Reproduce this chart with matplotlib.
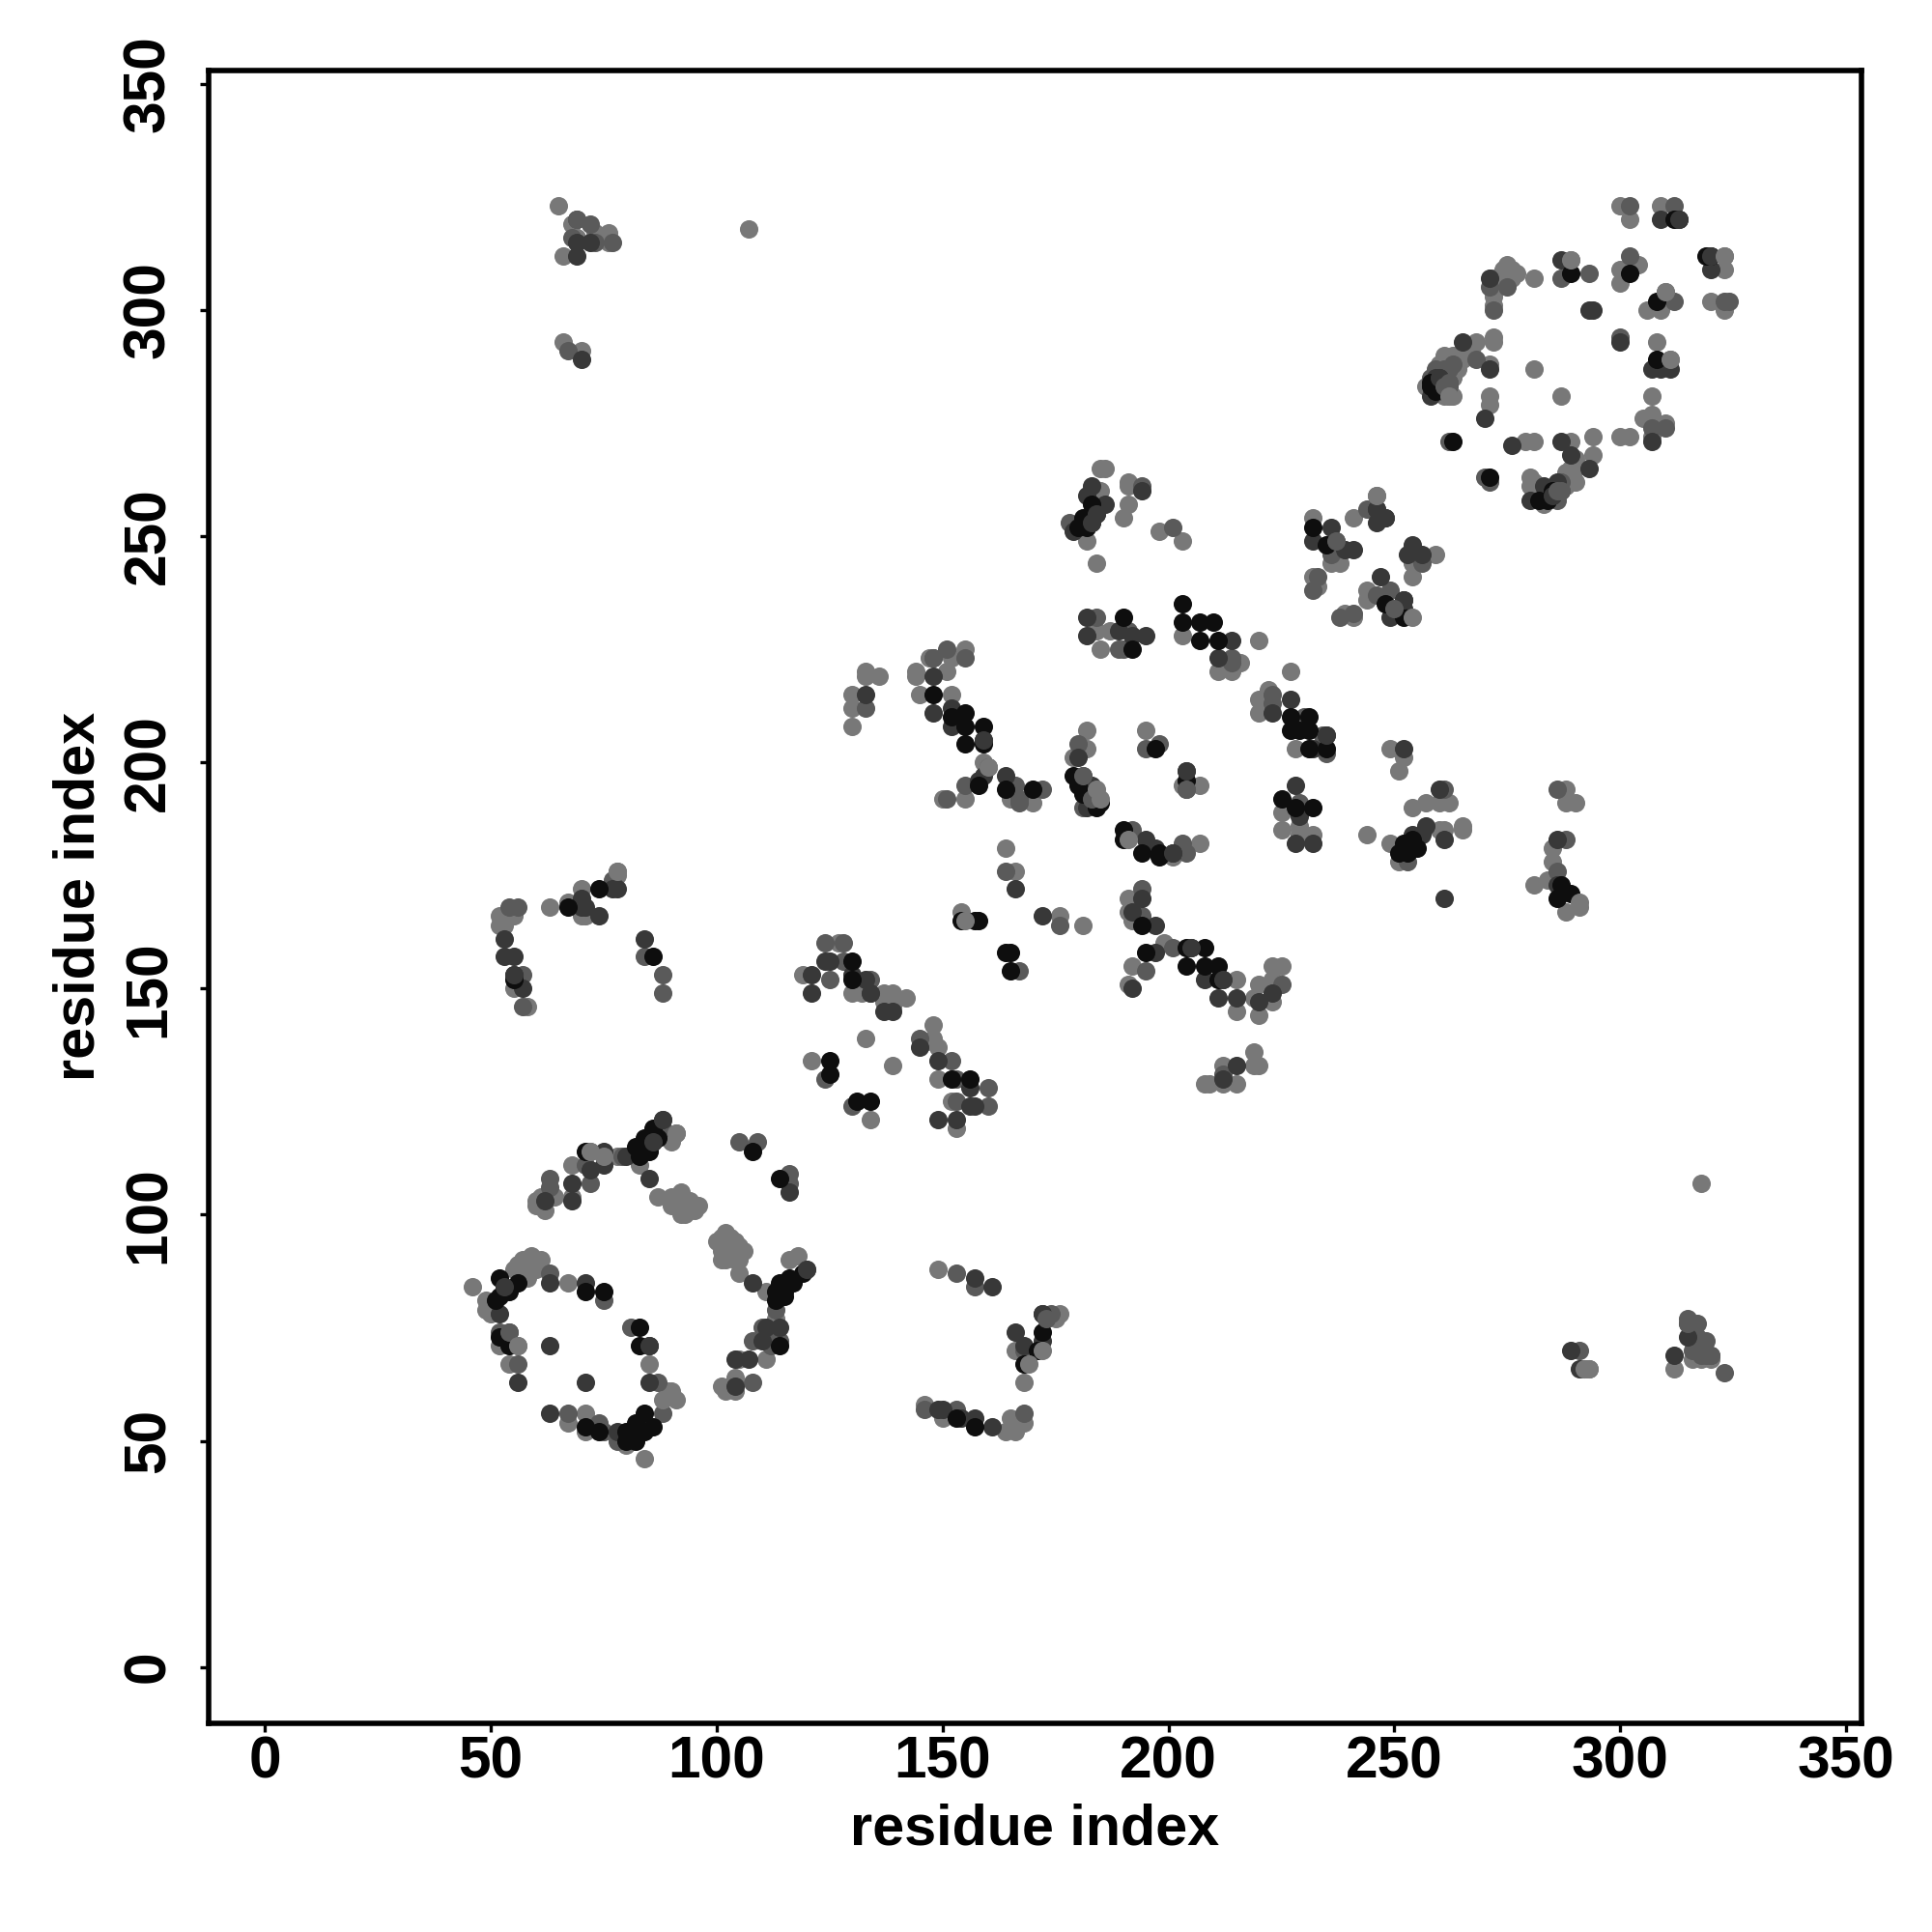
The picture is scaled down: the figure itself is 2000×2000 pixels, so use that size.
"""Contact map scatter: residue index vs residue index, points shaded by four grey levels."""

import matplotlib
matplotlib.use("Agg")
import matplotlib.pyplot as plt

plt.rcParams["font.family"] = ["Liberation Sans", "DejaVu Sans"]

TICKS = [0, 50, 100, 150, 200, 250, 300, 350]
XLABEL = "residue index"
YLABEL = "residue index"

light = [
    (46,84),(49,81),(49,79),(50,78),(52,71),(56,71),(54,67),(59,91),(61,90),(56,89),(55,88),(58,88),(60,88),(57,90),(58,86),
    (67,85),(85,67),(89,61),(90,61),(91,59),(67,54),(71,56),(71,52),(80,49),(84,46),(61,102),(61,104),(62,101),(60,103),(60,102),
    (64,104),(68,111),(68,104),(72,114),(75,113),(78,113),(91,118),(90,116),(83,111),(87,104),(90,104),(92,105),(91,103),(93,102),
    (90,102),(92,102),(93,100),(96,102),(94,101),(102,96),(100,94),(101,92),(102,93),(105,93),(105,90),(101,90),(103,95),(104,92),
    (103,91),(101,95),(102,90),(104,94),(106,92),(104,90),(94,103),(92,100),(95,101),
    (105,87),(111,83),(118,91),(116,90),(113,77),(111,68),(105,68),(104,64),(101,62),(102,61),(104,61),(103,62),
    (127,160),(119,153),(130,149),(132,149),(137,149),(139,149),(142,148),(139,146),(137,147),(133,139),(148,142),
    (148,139),(149,137),(146,138),(149,130),(152,125),(153,119),(121,134),(134,121),(139,133),(154,167),(176,166),
    (181,164),(191,170),(191,167),(192,165),(199,160),(192,155),(191,151),(133,220),(133,219),(136,219),(130,215),
    (130,212),(130,208),(144,220),(144,219),(145,215),(152,215),(147,223),(155,225),(152,223),(151,220),(159,200),
    (150,192),(155,192),(165,192),(170,191),(164,181),(166,176),(182,207),(182,203),(179,201),(185,225),
    (195,207),(203,195),(207,195),(207,182),(201,179),(203,228),(220,227),(211,220),(214,220),(216,222),(227,220),
    (222,216),(220,214),(220,211),(228,203),(186,265),(185,265),(185,260),(182,249),(184,244),(191,262),(191,261),
    (191,257),(190,254),(198,251),(203,249),(184,229),(187,229),(232,254),(239,247),(236,244),(238,244),(232,241),
    (233,239),(241,254),(246,259),(259,246),(254,244),(254,241),(244,238),(244,236),(239,233),(241,232),
    (249,203),(252,201),(251,198),(225,189),(225,185),(229,186),(229,184),(232,184),(244,184),(249,182),(254,190),
    (257,191),(260,191),(262,191),(265,186),(265,185),(261,185),(260,185),(251,178),(288,194),(288,191),(290,191),
    (285,181),(285,178),(281,173),(284,174),(288,167),(53,164),(52,164),(52,166),(55,166),(55,150),(58,146),
    (78,176),(78,175),(70,172),(67,169),(63,168),(70,166),(71,166),(68,319),(73,317),(69,316),(76,317),(76,315),
    (66,312),(65,323),(107,318),(66,293),(70,291),(146,58),(150,55),(164,52),(165,55),(166,52),(168,54),(166,70),
    (168,63),(176,78),(175,77),(149,88),(318,107),(293,66),(292,66),(312,66),(320,68),(316,68),(318,68),
    (300,323),(302,320),(309,323),(323,312),(323,309),(320,302),(323,300),(300,309),(304,310),(300,306),(289,311),
    (281,307),(275,310),(273,307),(276,307),(272,301),(310,304),(306,300),(309,300),(308,293),(311,289),(281,287),
    (287,281),(307,281),(305,276),(307,277),(310,275),(300,272),(302,272),(307,272),(272,294),(272,293),(268,293),
    (261,290),(263,290),(265,289),(271,288),(260,288),(257,283),(262,281),(263,281),(261,281),(271,281),(271,279),
    (279,271),(281,271),(289,271),(294,272),(294,268),(290,265),(290,262),(280,263),(283,257),(280,261),
    (264,287),(266,290),(267,291),(263,285),(264,288),(288,261),(289,262),(288,264),(289,265),(290,267),(281,262),(282,261),
    (272,304),(272,307),(274,306),(275,308),(274,309),(276,309),(277,308),(272,303),
    (215,145),(219,148),(220,151),(223,155),(225,155),(223,152),(223,147),(220,144),(219,136),(219,133),(220,133),(212,133),
    (208,129),(209,129),(215,129),(215,152),(212,129),
]

mid = [
    (52,74),(54,74),(56,67),(63,87),(75,81),(81,75),(87,63),(88,56),(78,50),(67,56),(74,54),(75,52),(63,108),
    (63,106),(72,107),(71,111),(79,113),(88,121),(88,119),(105,116),(109,116),(116,109),(116,107),(108,72),(108,63),
    (114,72),(113,79),(120,88),(124,160),(128,160),(128,156),(125,152),(134,152),(134,149),(145,139),(152,134),(153,130),
    (160,128),(153,125),(160,124),(124,130),(130,124),(167,154),(176,164),(194,172),(194,166),(201,159),(195,154),
    (133,212),(148,223),(151,225),(155,223),(160,199),(155,195),(151,192),(166,195),(167,192),(167,191),(172,194),
    (164,176),(180,204),(181,197),(195,203),(198,204),(204,198),(204,194),(192,185),(203,182),(204,180),(182,192),
    (214,222),(214,223),(223,215),(223,213),(190,225),(191,229),(184,232),(189,225),(194,261),(201,252),
    (233,241),(232,238),(237,249),(236,246),(238,232),(241,233),(244,256),(256,244),(246,237),(249,238),(250,234),
    (234,206),(235,202),(230,210),(229,191),(261,194),(286,194),(288,183),(286,176),(253,178),(84,157),(57,153),
    (88,153),(88,149),(57,146),(54,168),(56,168),(77,174),(69,320),(72,319),(68,316),(73,315),(77,315),(67,291),
    (146,57),(153,57),(153,87),(157,84),(168,70),(168,56),(173,77),(174,78),(291,70),(315,77),(315,76),(317,76),
    (317,73),(319,72),(320,69),(323,65),(302,323),(312,323),(323,302),(324,302),(302,312),(287,307),(293,308),
    (275,305),(272,300),(312,302),(300,294),(268,289),(259,287),(262,287),(258,285),(262,284),(307,274),(310,274),
    (270,263),(271,262),(262,271),(287,262),(287,260),(178,253),(212,152),(225,151),(212,131),(316,72),(317,71),(318,71),
    (316,70),(318,69),(319,69),(261,287),(263,288),(260,282),(261,283),(262,283),(286,258),(286,260),(271,305),
    (183,192),(181,190),(110,75),(112,71),(112,73),
]

dark = [
    (52,78),(63,71),(71,63),(56,63),(63,85),(71,85),(85,71),(85,63),(78,52),(63,56),(62,103),(68,107),(68,103),(72,110),
    (75,114),(75,111),(80,113),(85,108),(108,85),(116,105),(114,75),(111,75),(110,72),(104,68),(107,68),(104,62),
    (124,156),(125,156),(121,153),(121,149),(130,153),(133,152),(134,149),(137,145),(139,145),(145,137),(149,134),
    (156,128),(156,124),(157,124),(149,121),(153,121),(166,172),(172,166),(194,170),(192,167),(197,164),(197,158),
    (205,159),(192,150),(133,215),(148,219),(148,211),(152,212),(152,208),(159,205),(158,196),(159,197),(164,197),
    (180,201),(183,195),(182,190),(195,183),(197,181),(201,180),(182,232),(182,228),(189,229),(192,228),(195,228),
    (214,227),(211,223),(223,211),(227,214),(228,182),(232,182),(228,195),(229,188),(232,249),(236,252),(241,247),
    (246,256),(246,253),(248,254),(254,248),(253,246),(256,246),(247,241),(252,236),(252,234),(249,232),(235,206),
    (232,203),(252,203),(260,194),(257,186),(254,184),(256,184),(261,183),(261,170),(286,183),(287,171),(286,173),
    (84,161),(53,161),(53,157),(55,157),(55,153),(57,150),(78,172),(77,172),(70,170),(70,168),(71,168),(74,166),
    (69,315),(72,315),(69,312),(70,289),(149,57),(150,57),(154,55),(157,55),(161,53),(157,86),(161,84),(166,74),
    (168,71),(172,72),(172,78),(289,70),(291,66),(315,73),(312,69),(309,320),(320,309),(287,311),(271,307),(293,300),(294,300),
    (300,293),(307,287),(309,287),(311,287),(265,293),(271,287),(260,285),(258,281),(270,276),(276,270),(287,271),
    (289,268),(293,265),(280,258),(283,261),(286,262),(307,271),
    (183,261),(182,259),(186,257),(184,255),(183,253),(179,251),(194,260),(208,152),(215,148),(223,149),(220,147),(211,148),
    (215,133),(212,130),(259,285),(260,284),(284,259),(285,259),
]

black = [
    (51,81),(52,82),(52,86),(54,83),(56,85),(53,84),(52,73),(54,71),(71,83),(75,83),(83,75),(83,71),(86,53),(84,56),
    (82,54),(84,52),(80,52),(82,50),(80,50),(71,53),(74,52),(71,114),(82,115),(83,113),(84,115),(84,117),(85,114),
    (86,119),(86,116),(87,117),(108,114),(114,108),(119,87),(116,86),(117,85),(114,85),(115,83),(113,83),(113,81),
    (115,82),(114,71),(125,134),(125,131),(131,125),(134,125),(130,156),(130,152),(152,130),(156,130),(154,165),
    (157,165),(158,165),(164,158),(165,158),(165,154),(194,164),(195,158),(204,155),(148,215),(152,210),(155,211),
    (155,208),(159,208),(155,204),(159,204),(158,195),(164,194),(170,194),(179,197),(180,195),(181,193),(184,190),
    (185,191),(197,203),(204,196),(190,185),(190,183),(194,180),(198,180),(198,179),(192,225),(190,232),(203,235),
    (203,231),(207,231),(210,231),(207,227),(211,227),(183,257),(181,254),(180,252),(182,252),(232,252),(235,248),
    (248,235),(252,232),(227,210),(227,207),(229,207),(231,210),(231,207),(231,203),(235,203),(225,192),(228,190),
    (232,190),(254,183),(252,182),(255,181),(251,180),(253,180),(287,173),(286,170),(289,171),(74,172),(67,168),
    (55,152),(86,157),(172,74),(171,70),(168,67),(153,55),(157,53),(319,312),(320,312),(312,320),(313,320),
    (308,302),(308,289),(302,308),(289,308),(263,271),(271,263),(258,284),(282,258),(285,260),(284,258),
    (204,159),(208,159),(208,155),(211,155),(211,152),(258,283),(259,282),
]

# dots that sit on top of the black ones
over_dark = [
    (120,88),(88,121),(55,153),(85,71),(53,84),(86,116),(159,205),(204,198),(205,159),(212,152),(172,78),(201,180),
    (184,255),(183,253),(246,256),(248,254),(239,247),(252,236),(235,206),(260,285),(285,259),(313,320),(320,312),
]
over_mid = [
    (54,74),(204,194),(173,77),(181,197),(183,192),(237,249),(250,234),(262,284),(261,283),(287,260),(286,260),(320,69),
    (315,76),(69,320),(148,223),
]
over = [
    (155,165),(172,70),(169,67),(289,311),(311,289),(310,304),(323,312),(291,169),(291,168),(262,281),(292,66),(293,66),
    (184,194),(185,192),(191,183),(246,259),(72,114),(75,113),(56,71),(88,59),(91,118),(254,232),(78,176),(160,199),
]

SHADES = [("#787878", light), ("#5a5a5a", mid), ("#383838", dark), ("#0e0e0e", black),
          ("#383838", over_dark), ("#5a5a5a", over_mid), ("#787878", over)]

fig = plt.figure(figsize=(10, 10), dpi=200)
ax = fig.add_axes([216 / 2000, 1 - 1783.7 / 2000, (1927 - 216) / 2000, (1783.7 - 72.7) / 2000])

for col, pts in SHADES:
    ax.scatter([p[0] for p in pts], [p[1] for p in pts], s=47, color=col, linewidths=0, zorder=2)

ax.set_xlim(-12.47, 353.4)
ax.set_ylim(-12.4, 353)
ax.set_xticks(TICKS)
ax.set_yticks(TICKS)
for s in ax.spines.values():
    s.set_linewidth(2)
ax.tick_params(axis="x", length=3.2, width=1.2, labelsize=21.8, pad=1.5)
ax.tick_params(axis="y", length=3.2, width=1.2, labelsize=21.8, pad=8.5)
for lab in ax.get_xticklabels() + ax.get_yticklabels():
    lab.set_fontweight("bold")
for lab in ax.get_yticklabels():
    lab.set_rotation(90)
    lab.set_va("center")

ax.set_xlabel(XLABEL, fontsize=21.4, fontweight="bold", labelpad=4.5)
ax.set_ylabel(YLABEL, fontsize=21.4, fontweight="bold", labelpad=6)

fig.savefig("out.png", dpi=200)
